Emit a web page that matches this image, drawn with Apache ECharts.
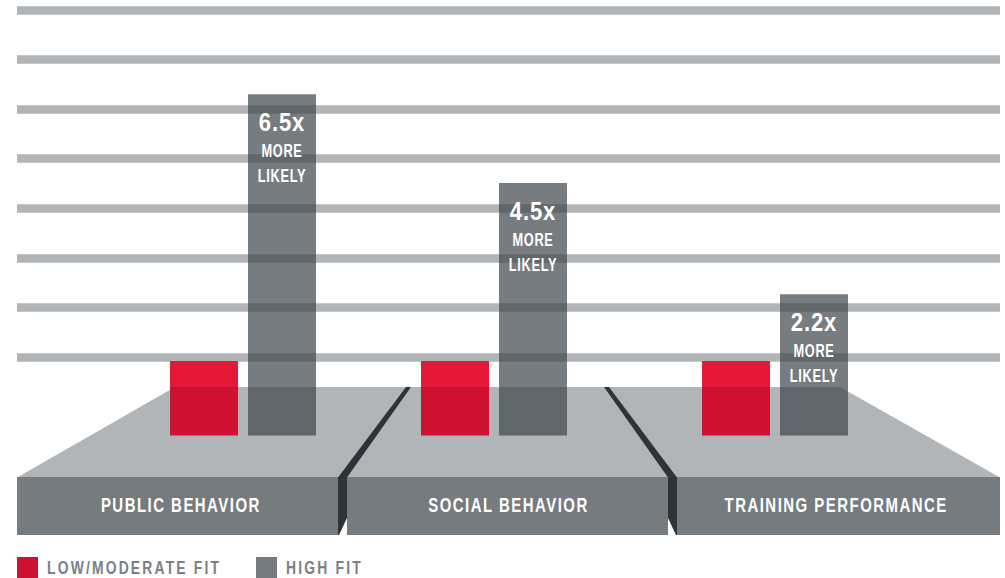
<!DOCTYPE html>
<html>
<head>
<meta charset="utf-8">
<script src="https://cdn.jsdelivr.net/npm/echarts@6.0.0/dist/echarts.min.js"></script>
<style>
  html, body { margin: 0; padding: 0; background: #fff; }
  #chart { width: 1005px; height: 578px; }
</style>
</head>
<body>
<div id="chart"></div>
<script>
// data (bar heights in grid-line steps from the bar base)
const categories = ['PUBLIC BEHAVIOR', 'SOCIAL BEHAVIOR', 'TRAINING PERFORMANCE'];
const lowFit = [1.5, 1.5, 1.5];
const highFit = [6.88, 5.09, 2.85];
const highFitLabels = ['6.5x', '4.5x', '2.2x'];
const seriesNames = ['LOW/MODERATE FIT', 'HIGH FIT'];
const gridSteps = 8;

// layout
const FONT = '"Liberation Sans", Arial, sans-serif';
const pairCenters = [243, 494, 775];
const legendLefts = [17, 256];
const PLATFORM_TOP = 387;
const H = 578;

const RED_UP = '#e31937';
const RED_DOWN = '#cc1230';
const GRAY_BAR = 'rgba(63, 71, 76, 0.71)';
const LINE_GRAY = '#b1b5b8';
const FACE_GRAY = '#767b80';
const DARK = '#2d3439';

// letter spacing / horizontal squeeze per font size, to fake the condensed face
const TRACKING = {
  25: [1, 0.88],
  20: [2, 0.747],
  19: [3, 0.73],
  18: [1, 0.71],
};

const redFill = {
  type: 'linear', x: 0, y: 0, x2: 0, y2: H, global: true,
  colorStops: [
    { offset: 0, color: RED_UP },
    { offset: PLATFORM_TOP / H, color: RED_UP },
    { offset: PLATFORM_TOP / H, color: RED_DOWN },
    { offset: 1, color: RED_DOWN },
  ],
};

const chart = echarts.init(document.getElementById('chart'), null, { renderer: 'svg' });

// grid 0 carries the horizontal rules and the category names
const grids = [{ left: 17, right: 5, top: 10, bottom: 171.4 }];
const xAxes = [{
  type: 'category',
  gridIndex: 0,
  data: categories,
  z: 10,
  axisLine: { show: false },
  axisTick: { show: false },
  axisLabel: {
    interval: 0,
    margin: 88,
    lineHeight: 20,
    color: '#fff',
    fontFamily: FONT,
    fontWeight: 'bold',
    fontSize: 20,
  },
}];
const yAxes = [{
  type: 'value',
  gridIndex: 0,
  min: 0,
  max: gridSteps,
  interval: 1,
  axisLine: { show: false },
  axisTick: { show: false },
  axisLabel: { show: false },
  splitLine: {
    show: true,
    showMinLine: false,
    lineStyle: { color: LINE_GRAY, width: 8.5 },
  },
}];
const series = [];

// one small grid per category so each pair of bars sits where the artwork puts it
categories.forEach((cat, i) => {
  grids.push({ left: pairCenters[i] - 100, width: 200, top: 10, bottom: H - 435.5 });
  xAxes.push({ type: 'category', gridIndex: i + 1, data: [cat], show: false });
  yAxes.push({ type: 'value', gridIndex: i + 1, min: 0, max: 8.58, show: false });

  series.push({
    type: 'bar',
    name: seriesNames[0],
    xAxisIndex: i + 1,
    yAxisIndex: i + 1,
    data: [lowFit[i]],
    barWidth: 68,
    barGap: '14.7%',
    itemStyle: { color: redFill },
  });
  series.push({
    type: 'bar',
    name: seriesNames[1],
    xAxisIndex: i + 1,
    yAxisIndex: i + 1,
    data: [highFit[i]],
    barWidth: 68,
    barGap: '14.7%',
    itemStyle: { color: GRAY_BAR },
    label: {
      show: true,
      position: 'insideTop',
      distance: 12,
      formatter: `{a|${highFitLabels[i]}}\n{b|MORE}\n{b|LIKELY}`,
      rich: {
        a: { color: '#fff', fontFamily: FONT, fontWeight: 'bold', fontSize: 25, lineHeight: 32 },
        b: { color: '#fff', fontFamily: FONT, fontWeight: 'bold', fontSize: 18, lineHeight: 25 },
      },
    },
  });
});

// the grey "stage" under the bars
const platform = [
  { type: 'polygon', shape: { points: [[17, 477.5], [175, PLATFORM_TOP], [840, PLATFORM_TOP], [1000, 477.5]] }, style: { fill: LINE_GRAY } },
  { type: 'rect', shape: { x: 17, y: 477, width: 321, height: 58 }, style: { fill: FACE_GRAY } },
  { type: 'rect', shape: { x: 347, y: 477, width: 321, height: 58 }, style: { fill: FACE_GRAY } },
  { type: 'rect', shape: { x: 677, y: 477, width: 323, height: 58 }, style: { fill: FACE_GRAY } },
  { type: 'polygon', shape: { points: [[338, 477.5], [406, PLATFORM_TOP], [411, PLATFORM_TOP], [347, 477.5]] }, style: { fill: DARK } },
  { type: 'polygon', shape: { points: [[338, 477], [347, 477], [347, 518], [339, 535], [338, 535]] }, style: { fill: DARK } },
  { type: 'polygon', shape: { points: [[604, PLATFORM_TOP], [609, PLATFORM_TOP], [677, 477.5], [668, 477.5]] }, style: { fill: DARK } },
  { type: 'polygon', shape: { points: [[668, 477], [677, 477], [677, 535], [676, 535], [668, 518]] }, style: { fill: DARK } },
].map((el) => ({ ...el, z: 1, silent: true }));

const legendTextStyle = {
  color: '#7b8085',
  fontFamily: FONT,
  fontWeight: 'bold',
  fontSize: 19,
  padding: [0, 0, 0, 4],
};
const legends = seriesNames.map((name, i) => ({
  left: legendLefts[i],
  top: 557,
  padding: 0,
  icon: 'rect',
  itemWidth: 21,
  itemHeight: 21,
  selectedMode: false,
  data: [{ name, itemStyle: { color: i === 0 ? RED_DOWN : FACE_GRAY } }],
  textStyle: legendTextStyle,
}));

chart.setOption({
  animation: false,
  grid: grids,
  xAxis: xAxes,
  yAxis: yAxes,
  legend: legends,
  graphic: { elements: platform },
  series,
});

// squeeze the svg text so it reads like the original condensed, tracked caps
function condenseTexts() {
  document.querySelectorAll('#chart text').forEach((t) => {
    if (t.dataset.condensed) return;
    const size = Math.round(parseFloat(getComputedStyle(t).fontSize) || 12);
    const [spacing, squeeze] = TRACKING[size] || [1, 0.8];
    t.style.letterSpacing = `${spacing}px`;
    const natural = t.getComputedTextLength();
    if (!natural) return;
    t.setAttribute('textLength', (natural * squeeze).toFixed(1));
    t.setAttribute('lengthAdjust', 'spacingAndGlyphs');
    t.dataset.condensed = '1';
  });
}
condenseTexts();
chart.on('finished', condenseTexts);
</script>
</body>
</html>
